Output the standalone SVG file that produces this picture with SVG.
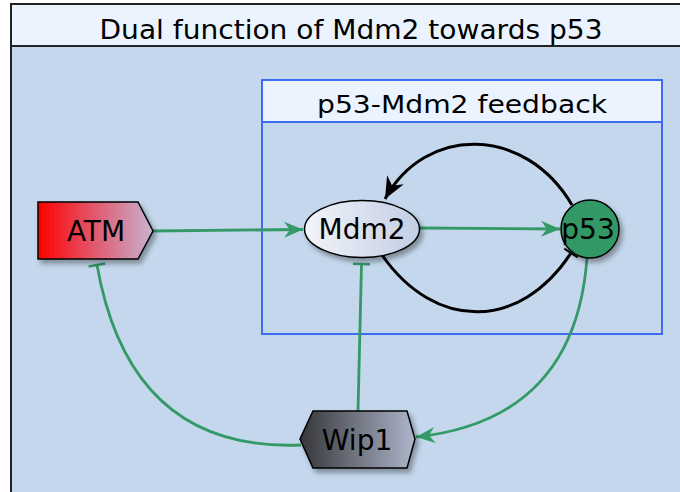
<svg xmlns="http://www.w3.org/2000/svg" width="680" height="492" viewBox="0 0 680 492">
<style>
text{font-family:"DejaVu Sans","Liberation Sans",sans-serif;fill:#000;text-anchor:middle}
.title{font-size:26px}
.sub{font-size:24px}
.lbl{font-size:28px}
.node{stroke:#000;stroke-width:1.5}
.g{fill:none;stroke:#339966;stroke-width:2.8}
.k{fill:none;stroke:#000;stroke-width:3}
</style>
<defs>
<linearGradient id="gAtm" x1="0" y1="0" x2="1" y2="0"><stop offset="0" stop-color="#ff0000"/><stop offset="0.5" stop-color="#e05a70"/><stop offset="1" stop-color="#c8b4d0"/></linearGradient>
<linearGradient id="gMdm" x1="0" y1="0" x2="1" y2="0"><stop offset="0" stop-color="#f2f4fa"/><stop offset="1" stop-color="#c2cee4"/></linearGradient>
<linearGradient id="gWip" x1="0" y1="0" x2="1" y2="0"><stop offset="0" stop-color="#36363a"/><stop offset="1" stop-color="#adb6ca"/></linearGradient>
<filter id="sh" x="-20%" y="-20%" width="140%" height="150%"><feDropShadow dx="3" dy="4" stdDeviation="2.5" flood-color="#000" flood-opacity="0.35"/></filter>
<marker id="ag" markerUnits="userSpaceOnUse" viewBox="-20 -9 21 18" refX="0" refY="0" markerWidth="21" markerHeight="18" orient="auto"><path d="M0,0 L-19,-8 L-13,0 L-19,8 Z" fill="#339966"/></marker>
<marker id="ak" markerUnits="userSpaceOnUse" viewBox="-24 -11 25 22" refX="0" refY="0" markerWidth="25" markerHeight="22" orient="auto"><path d="M0,0 L-22,-9.5 L-15,0 L-22,9.5 Z" fill="#000"/></marker>
<marker id="tg" markerUnits="userSpaceOnUse" viewBox="-2 -10 4 20" refX="0" refY="0" markerWidth="4" markerHeight="20" orient="auto"><path d="M0,-8.5 L0,8.5" stroke="#339966" stroke-width="2.5"/></marker>
<marker id="tk" markerUnits="userSpaceOnUse" viewBox="-2 -10 4 20" refX="0" refY="0" markerWidth="4" markerHeight="20" orient="auto"><path d="M0,-8 L0,8" stroke="#000" stroke-width="2"/></marker>
</defs>
<g id="frame">
<rect x="11" y="4" width="700" height="520" fill="#c4d7ec" stroke="#222" stroke-width="2"/>
<rect x="11" y="4" width="700" height="42" fill="#eaf3fe" stroke="#222" stroke-width="2"/>
<text class="title" x="351" y="39" textLength="503" lengthAdjust="spacingAndGlyphs">Dual function of Mdm2 towards p53</text>
</g>
<g id="feedback">
<rect x="262" y="80" width="400" height="254" fill="none" stroke="#3d6bf2" stroke-width="2"/>
<rect x="262" y="80" width="400" height="42" fill="#eaf3fe" stroke="#3d6bf2" stroke-width="2"/>
<text class="sub" x="462" y="113" textLength="290" lengthAdjust="spacingAndGlyphs">p53-Mdm2 feedback</text>
</g>
<g id="connectors">
<path class="g" d="M153,231 L303,229.5" marker-end="url(#ag)"/>
<path class="g" d="M419,228 L560,229" marker-end="url(#ag)"/>
<path class="k" d="M572,205 C525,125 425,125 385,199" marker-end="url(#ak)"/>
<path class="k" d="M382,255 C435,331 520,331 571,253" marker-end="url(#tk)"/>
<path class="g" d="M358,411 L361.5,264" marker-end="url(#tg)"/>
<path class="g" d="M301,445 Q130,452 97,265" marker-end="url(#tg)"/>
<path class="g" d="M587,258 Q575,420 416,437" marker-end="url(#ag)"/>
</g>
<g id="ATM">
<polygon class="node" points="38,202 138,202 153,231 138,259 38,259" fill="url(#gAtm)" filter="url(#sh)"/>
<text class="lbl" x="96" y="241">ATM</text>
</g>
<g id="Mdm2">
<ellipse class="node" cx="362" cy="229" rx="57.5" ry="28.5" fill="url(#gMdm)" filter="url(#sh)"/>
<text class="lbl" x="362" y="239">Mdm2</text>
</g>
<g id="p53">
<circle class="node" cx="590" cy="229" r="29" fill="#339966" filter="url(#sh)"/>
<text class="lbl" x="588" y="239">p53</text>
</g>
<g id="Wip1">
<polygon class="node" points="313,411 407,411 415,439 407,468 313,468 300,439" fill="url(#gWip)" filter="url(#sh)"/>
<text class="lbl" x="357" y="450">Wip1</text>
</g>
</svg>
